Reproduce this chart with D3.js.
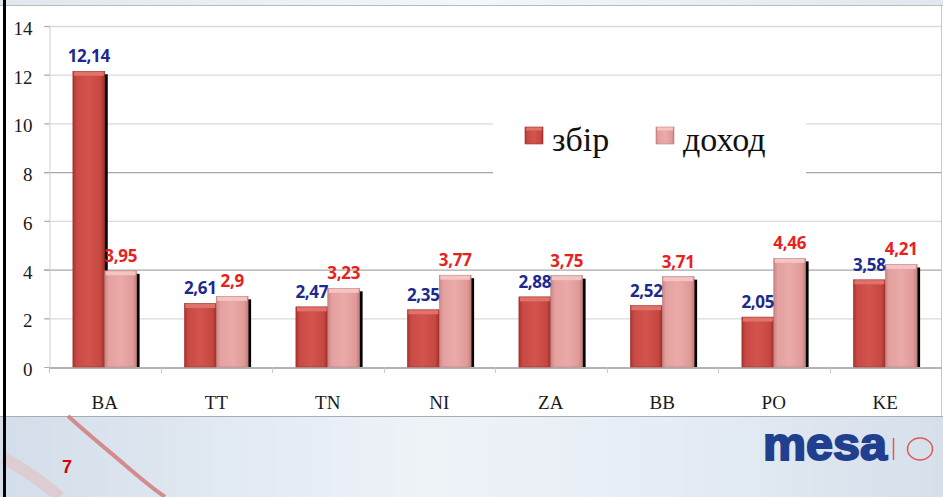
<!DOCTYPE html>
<html>
<head>
<meta charset="utf-8">
<script src="https://cdn.jsdelivr.net/npm/d3@7"></script>
<style>
  html, body { margin: 0; padding: 0; background: #fff; }
  svg { display: block; }
  .serif { font-family: "Liberation Serif", "Times New Roman", serif; }
</style>
</head>
<body>
<div id="chart"></div>
<script>
// дані
const categories = ["BA", "TT", "TN", "NI", "ZA", "BB", "PO", "KE"];
const seriesNames = ["збір", "доход"];
const zbir  = [12.14, 2.61, 2.47, 2.35, 2.88, 2.52, 2.05, 3.58];
const dokhod = [3.95, 2.9, 3.23, 3.77, 3.75, 3.71, 4.46, 4.21];
const zbirLabels  = ["12,14", "2,61", "2,47", "2,35", "2,88", "2,52", "2,05", "3,58"];
const dokhodLabels = ["3,95", "2,9", "3,23", "3,77", "3,75", "3,71", "4,46", "4,21"];
const yTicks = [0, 2, 4, 6, 8, 10, 12, 14];

const W = 943, H = 497;
const svg = d3.select("#chart").append("svg")
    .attr("width", W).attr("height", H);

const defs = svg.append("defs");
function hGrad(id, stops) {
    const g = defs.append("linearGradient").attr("id", id)
        .attr("x1", "0%").attr("x2", "100%").attr("y1", "0%").attr("y2", "0%");
    stops.forEach(s => g.append("stop").attr("offset", s[0]).attr("stop-color", s[1]));
}
hGrad("gZbir", [["0%", "#a9322e"], ["12%", "#c94a44"], ["50%", "#d2544d"], ["88%", "#c54740"], ["100%", "#9e2d29"]]);
hGrad("gDokhod", [["0%", "#c98583"], ["12%", "#e3a09e"], ["50%", "#eaaaa8"], ["88%", "#e09a98"], ["100%", "#c27e7c"]]);
hGrad("gBottom", [["0%", "#d3deea"], ["45%", "#eef3f8"], ["70%", "#e6edf4"], ["100%", "#d6e0eb"]]);
hGrad("gTop", [["0%", "#dfe7f0"], ["50%", "#f3f6fa"], ["100%", "#dfe7f0"]]);

// фон
svg.append("rect").attr("x", 0).attr("y", 0).attr("width", W).attr("height", 6).attr("fill", "url(#gTop)");
svg.append("line").attr("x1", 0).attr("x2", W).attr("y1", 5.5).attr("y2", 5.5).attr("stroke", "#b8bcc2");
svg.append("rect").attr("x", 0).attr("y", 416).attr("width", W).attr("height", H - 416).attr("fill", "url(#gBottom)");
svg.append("line").attr("x1", 0).attr("x2", W).attr("y1", 416.5).attr("y2", 416.5).attr("stroke", "#a9adb3");
// червоні дуги внизу
svg.append("path").attr("d", "M68,416 C90,436 110,452 125,465 C140,478 155,490 165,497")
    .attr("fill", "none").attr("stroke", "#d07c7c").attr("stroke-width", 4).attr("opacity", 0.85);
svg.append("path").attr("d", "M4,458 C25,470 45,484 60,497")
    .attr("fill", "none").attr("stroke", "#e6bcc0").attr("stroke-width", 12).attr("opacity", 0.55);
svg.append("line").attr("x1", 941.5).attr("x2", 941.5).attr("y1", 6).attr("y2", 416).attr("stroke", "#c8c8c8");
svg.append("rect").attr("x", 3).attr("y", 0).attr("width", 3).attr("height", H).attr("fill", "#000");

// шкали
const x = d3.scaleBand().domain(categories).range([49, 941]).padding(0);
const xs = d3.scaleBand().domain(seriesNames).range([0, x.bandwidth()])
    .paddingInner(0).paddingOuter(0.75);
const y = d3.scaleLinear().domain([0, 14]).range([367, 26]);

const g = svg.append("g");

// сітка
g.selectAll(".grid").data(yTicks.filter(d => d > 0)).enter().append("line")
    .attr("x1", 44).attr("x2", 941)
    .attr("y1", d => y(d) + 0.5).attr("y2", d => y(d) + 0.5)
    .attr("stroke", d => (d === 4 || d === 8) ? "#a8a8a8" : "#dadada")
    .attr("stroke-width", 1.3);

// вісь Y
const yAxis = d3.axisLeft(y).tickValues(yTicks).tickSize(5).tickPadding(12).tickFormat(d3.format("d"));
const gy = g.append("g").attr("transform", "translate(49.5,0)").call(yAxis)
    .attr("font-family", null).attr("font-size", null);
gy.select(".domain").attr("stroke", "#cfcfcf");
gy.selectAll(".tick line").attr("stroke", "#a8a8a8");
gy.selectAll(".tick text")
    .style("font-family", "'Liberation Serif', 'Times New Roman', serif").style("font-size", "19px")
    .attr("fill", "#1a1a1a").attr("dy", "0.45em");

// вісь X
const xAxis = d3.axisBottom(x).tickSize(0).tickPadding(28);
const gx = g.append("g").attr("transform", "translate(0,367.5)").call(xAxis)
    .attr("font-family", null).attr("font-size", null);
gx.select(".domain").attr("stroke", "#9a9a9a").attr("stroke-width", 1.3);
gx.selectAll(".tick text")
    .style("font-family", "'Liberation Serif', 'Times New Roman', serif").style("font-size", "19px")
    .attr("fill", "#1a1a1a");
g.selectAll(".xtick").data(categories).enter().append("line")
    .attr("x1", d => Math.round(x(d)) + 0.5).attr("x2", d => Math.round(x(d)) + 0.5)
    .attr("y1", 367).attr("y2", 373).attr("stroke", "#c8c8c8");

// стовпці
const rows = categories.map((c, i) => [
    { cat: c, s: seriesNames[0], v: zbir[i], lab: zbirLabels[i] },
    { cat: c, s: seriesNames[1], v: dokhod[i], lab: dokhodLabels[i] }
]).flat();

const bx = d => x(d.cat) + xs(d.s);
const bw = xs.bandwidth();

// тіні
g.selectAll(".shadow").data(rows).enter().append("rect")
    .attr("x", d => bx(d) + 3).attr("y", d => y(d.v) + 3)
    .attr("width", bw).attr("height", d => y(0) - y(d.v) - 3)
    .attr("fill", "#000");

g.selectAll(".bar").data(rows).enter().append("rect")
    .attr("x", bx).attr("y", d => y(d.v))
    .attr("width", bw).attr("height", d => y(0) - y(d.v))
    .attr("fill", d => d.s === seriesNames[0] ? "url(#gZbir)" : "url(#gDokhod)")
    .attr("stroke", d => d.s === seriesNames[0] ? "#a3302c" : "#c4807e")
    .attr("stroke-width", 0.6);

// верхня фаска
g.selectAll(".cap").data(rows).enter().append("rect")
    .attr("x", d => bx(d) + 1).attr("y", d => y(d.v) + 0.5)
    .attr("width", bw - 2).attr("height", 4)
    .attr("fill", d => d.s === seriesNames[0] ? "#e0726b" : "#f3c4c2");

// підписи
g.selectAll(".lab").data(rows).enter().append("text")
    .attr("x", d => bx(d) + bw / 2).attr("y", d => y(d.v) - 9)
    .attr("text-anchor", "middle")
    .style("font-family", "'Open Sans', 'Liberation Sans', sans-serif")
    .style("font-weight", "bold").style("font-size", "17px")
    .style("letter-spacing", "-0.3px")
    .attr("fill", d => d.s === seriesNames[0] ? "#1c2a8e" : "#e8211c")
    .text(d => d.lab);

// легенда
const leg = svg.append("g");
leg.append("rect").attr("x", 493).attr("y", 112).attr("width", 313).attr("height", 70).attr("fill", "#fff");
const legX = [525, 656];
seriesNames.forEach((s, i) => {
    leg.append("rect").attr("x", legX[i]).attr("y", 127).attr("width", 18).attr("height", 17)
        .attr("fill", i === 0 ? "url(#gZbir)" : "url(#gDokhod)")
        .attr("stroke", i === 0 ? "#a3302c" : "#c4807e").attr("stroke-width", 0.6);
    leg.append("rect").attr("x", legX[i] + 1).attr("y", 127.5).attr("width", 16).attr("height", 3)
        .attr("fill", i === 0 ? "#e0726b" : "#f3c4c2");
    leg.append("text").attr("x", legX[i] + 27).attr("y", 151)
        .style("font-family", "'Liberation Serif', 'Times New Roman', serif").style("font-size", "34px")
        .attr("fill", "#111").text(s);
});

// номер сторінки та логотип
svg.append("text").attr("x", 62).attr("y", 473)
    .style("font-family", "'Liberation Sans', Arial, sans-serif").style("font-weight", "bold")
    .style("font-size", "18px").attr("fill", "#d40000").text("7");
svg.append("text").attr("x", 763).attr("y", 460)
    .style("font-family", "'Liberation Sans', Arial, sans-serif").style("font-weight", "bold")
    .style("font-size", "38px").attr("fill", "#213f8f")
    .attr("stroke", "#213f8f").attr("stroke-width", 1.6)
    .attr("transform", "translate(763,460) scale(1,1.22) translate(-763,-460)")
    .attr("textLength", 124).attr("lengthAdjust", "spacingAndGlyphs").text("mesa");
svg.append("line").attr("x1", 893.5).attr("x2", 893.5).attr("y1", 438).attr("y2", 460)
    .attr("stroke", "#e0585a").attr("stroke-width", 1.5);
svg.append("ellipse").attr("cx", 920).attr("cy", 449).attr("rx", 12.5).attr("ry", 11)
    .attr("fill", "none").attr("stroke", "#e0585a").attr("stroke-width", 1.5);
</script>
</body>
</html>
